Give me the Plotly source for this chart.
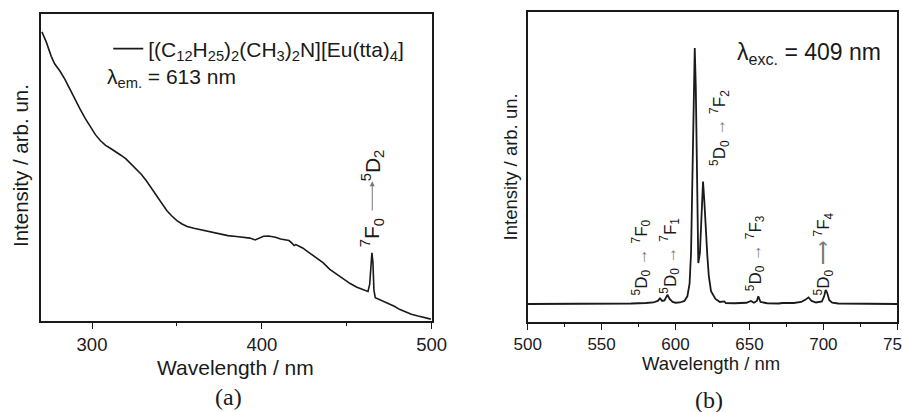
import plotly.graph_objects as go
from plotly.subplots import make_subplots

# ---------------- data: (a) excitation spectrum ----------------
exc_wavelength = [270.5, 273, 276, 278, 281, 284, 287, 290, 293, 296, 299, 302, 305, 308, 311, 314,
                  317, 320, 323, 326, 329, 332, 335, 338, 341, 344, 347, 350, 353, 356, 360, 365,
                  370, 375, 380, 385, 390, 393, 396, 398, 401, 404, 408, 411, 414, 416, 418, 419,
                  420, 424, 428, 432, 436, 440, 444, 448, 452, 456, 460, 462.5, 463.5, 464.2, 464.8,
                  465.4, 466, 466.8, 470, 473, 475, 478, 481, 484, 488, 492, 496, 499.5]
exc_intensity = [0.942, 0.91, 0.862, 0.838, 0.815, 0.788, 0.755, 0.72, 0.69, 0.66, 0.632, 0.607, 0.587,
                 0.572, 0.562, 0.552, 0.54, 0.528, 0.512, 0.496, 0.478, 0.457, 0.432, 0.406, 0.381,
                 0.36, 0.342, 0.327, 0.316, 0.308, 0.302, 0.296, 0.29, 0.284, 0.278, 0.275, 0.272,
                 0.270, 0.264, 0.268, 0.276, 0.277, 0.273, 0.267, 0.264, 0.262, 0.252, 0.246, 0.249,
                 0.238, 0.222, 0.206, 0.19, 0.168, 0.152, 0.136, 0.122, 0.11, 0.1, 0.096, 0.12, 0.19,
                 0.222, 0.19, 0.1, 0.076, 0.068, 0.062, 0.058, 0.048, 0.038, 0.031, 0.022, 0.016,
                 0.01, 0.006]

# ---------------- data: (b) emission spectrum ----------------
em_wavelength = [500, 520, 550, 570, 580, 585, 588, 589.5, 591, 592.5, 594.5, 596, 598, 600, 603, 606,
                 608, 609.5, 610.5, 611.5, 612.3, 613, 613.7, 614.5, 615.4, 616.5, 617.5, 618.6, 619.5,
                 620.5, 621.5, 622.5, 624, 627, 630, 633, 634, 640, 648, 651, 653, 655, 656, 657.5,
                 662, 670, 672, 680, 685, 688, 690, 692, 695, 699, 700.5, 701.5, 702.5, 704, 706,
                 710, 720, 750]
em_intensity = [0.0, 0.0, 0.001, 0.002, 0.004, 0.006, 0.012, 0.022, 0.012, 0.014, 0.036, 0.02, 0.008,
                0.005, 0.006, 0.012, 0.03, 0.08, 0.2, 0.5, 0.85, 1.0, 0.85, 0.45, 0.16, 0.2, 0.35,
                0.478, 0.4, 0.28, 0.19, 0.11, 0.05, 0.02, 0.008, 0.01, 0.004, 0.003, 0.005, 0.012,
                0.005, 0.012, 0.03, 0.008, 0.003, 0.002, 0.004, 0.004, 0.008, 0.018, 0.026, 0.012,
                0.006, 0.01, 0.03, 0.055, 0.045, 0.015, 0.005, 0.002, 0.001, 0.0]

# transition labels for (b): text, x (nm), y (intensity)
em_labels = ["<sup>5</sup>D<sub>0</sub> <span style='color:#777'>→</span> <sup>7</sup>F<sub>0</sub>",
             "<sup>5</sup>D<sub>0</sub> <span style='color:#777'>→</span> <sup>7</sup>F<sub>1</sub>",
             "<sup>5</sup>D<sub>0</sub> <span style='color:#777'>→</span> <sup>7</sup>F<sub>2</sub>",
             "<sup>5</sup>D<sub>0</sub> <span style='color:#777'>→</span> <sup>7</sup>F<sub>3</sub>",
             "<sup>5</sup>D<sub>0</sub> <span style='color:#777'>⟶</span> <sup>7</sup>F<sub>4</sub>"]
em_label_x = [577, 596, 630, 654, 700]
em_label_y = [0.18, 0.187, 0.6875, 0.2, 0.195]

FONT = "Liberation Sans, Arial, sans-serif"
SERIF = "Liberation Serif, Times New Roman, serif"
INK = "#1a1a1a"

fig = make_subplots(rows=1, cols=2)

fig.add_trace(go.Scatter(x=exc_wavelength, y=exc_intensity, mode="lines",
                         line=dict(color=INK, width=1.6),
                         name="[(C<sub>12</sub>H<sub>25</sub>)<sub>2</sub>(CH<sub>3</sub>)<sub>2</sub>N][Eu(tta)<sub>4</sub>]",
                         showlegend=True), row=1, col=1)
fig.add_trace(go.Scatter(x=em_wavelength, y=em_intensity, mode="lines",
                         line=dict(color=INK, width=1.8), showlegend=False), row=1, col=2)

axis_common = dict(showline=True, linecolor=INK, linewidth=1.5, mirror=True,
                   showgrid=False, zeroline=False, automargin=False)

fig.update_xaxes(**axis_common, domain=[0.0455, 0.4786], range=[270, 500],
                 tickmode="array", tickvals=[300, 400, 500], ticks="outside", ticklen=6,
                 tickwidth=1.3, tickcolor=INK, ticklabeloverflow="allow",
                 minor=dict(tickmode="array", tickvals=[350, 450], ticks="outside", ticklen=3,
                            tickwidth=1.3, tickcolor=INK),
                 tickfont=dict(family=FONT, size=18.5, color=INK), row=1, col=1)
fig.update_yaxes(**axis_common, domain=[0.2209, 0.9660], range=[0, 1],
                 showticklabels=False, ticks="", row=1, col=1)

fig.update_xaxes(**axis_common, domain=[0.5850, 0.9948], range=[500, 750],
                 tickmode="linear", tick0=500, dtick=50, ticks="outside", ticklen=6,
                 tickwidth=1.3, tickcolor=INK, ticklabeloverflow="allow",
                 minor=dict(tick0=500, dtick=25, ticks="outside", ticklen=3,
                            tickwidth=1.3, tickcolor=INK),
                 tickfont=dict(family=FONT, size=17, color=INK), row=1, col=2)
fig.update_yaxes(**axis_common, domain=[0.2184, 0.9709], range=[-0.0703, 1.1406],
                 showticklabels=False, ticks="", row=1, col=2)

C = dict(xanchor="center", yanchor="middle", showarrow=False)
ann = []
# axis titles
ann.append(dict(text="Wavelength / nm", x=0.2616, y=0.1092, xref="paper", yref="paper",
                font=dict(family=FONT, size=21, color=INK), **C))
ann.append(dict(text="Wavelength / nm", x=0.7882, y=0.118, xref="paper", yref="paper",
                font=dict(family=FONT, size=18.5, color=INK), **C))
ann.append(dict(text="Intensity / arb. un.", x=0.0222, y=0.597, xref="paper", yref="paper",
                textangle=-90, font=dict(family=FONT, size=20.5, color=INK), **C))
ann.append(dict(text="Intensity / arb. un.", x=0.5654, y=0.596, xref="paper", yref="paper",
                textangle=-90, font=dict(family=FONT, size=18.5, color=INK), **C))
# panel labels
ann.append(dict(text="(a)", x=0.2528, y=0.0364, xref="paper", yref="paper",
                font=dict(family=SERIF, size=24, color=INK), **C))
ann.append(dict(text="(b)", x=0.786, y=0.029, xref="paper", yref="paper",
                font=dict(family=SERIF, size=24, color=INK), **C))
# excitation / emission wavelength notes
ann.append(dict(text="λ<sub>em.</sub> = 613 nm", x=0.1164, y=0.811, xref="paper", yref="paper",
                xanchor="left", yanchor="middle", showarrow=False,
                font=dict(family=FONT, size=21, color=INK)))
ann.append(dict(text="λ<sub>exc.</sub> = 409 nm", x=0.8149, y=0.869, xref="paper", yref="paper",
                xanchor="left", yanchor="middle", showarrow=False,
                font=dict(family=FONT, size=23, color=INK)))
# (a) transition label
ann.append(dict(text="<sup>7</sup>F<sub>0</sub>", x=465, y=0.287, xref="x", yref="y",
                textangle=-90, font=dict(family=FONT, size=21, color=INK), **C))
ann.append(dict(text="", x=465, y=0.455, ax=465, ay=0.355, xref="x", yref="y",
                axref="x", ayref="y", showarrow=True, arrowhead=2, arrowsize=1,
                arrowwidth=1, arrowcolor="#777"))
ann.append(dict(text="<sup>5</sup>D<sub>2</sub>", x=465, y=0.508, xref="x", yref="y",
                textangle=-90, font=dict(family=FONT, size=21, color=INK), **C))
# (b) transition labels
for t, lx, ly in zip(em_labels, em_label_x, em_label_y):
    ann.append(dict(text=t, x=lx, y=ly, xref="x2", yref="y2", textangle=-90,
                    font=dict(family=FONT, size=17, color=INK), **C))

fig.update_layout(
    width=902, height=412, margin=dict(l=0, r=0, t=0, b=0, autoexpand=False),
    paper_bgcolor="white", plot_bgcolor="white",
    font=dict(family=FONT, color=INK),
    annotations=ann,
    legend=dict(x=0.12, y=0.931, xanchor="left", yanchor="top",
                bgcolor="rgba(0,0,0,0)", font=dict(family=FONT, size=21, color=INK),
                itemwidth=30, tracegroupgap=0),
)

fig.write_html("out.html")
